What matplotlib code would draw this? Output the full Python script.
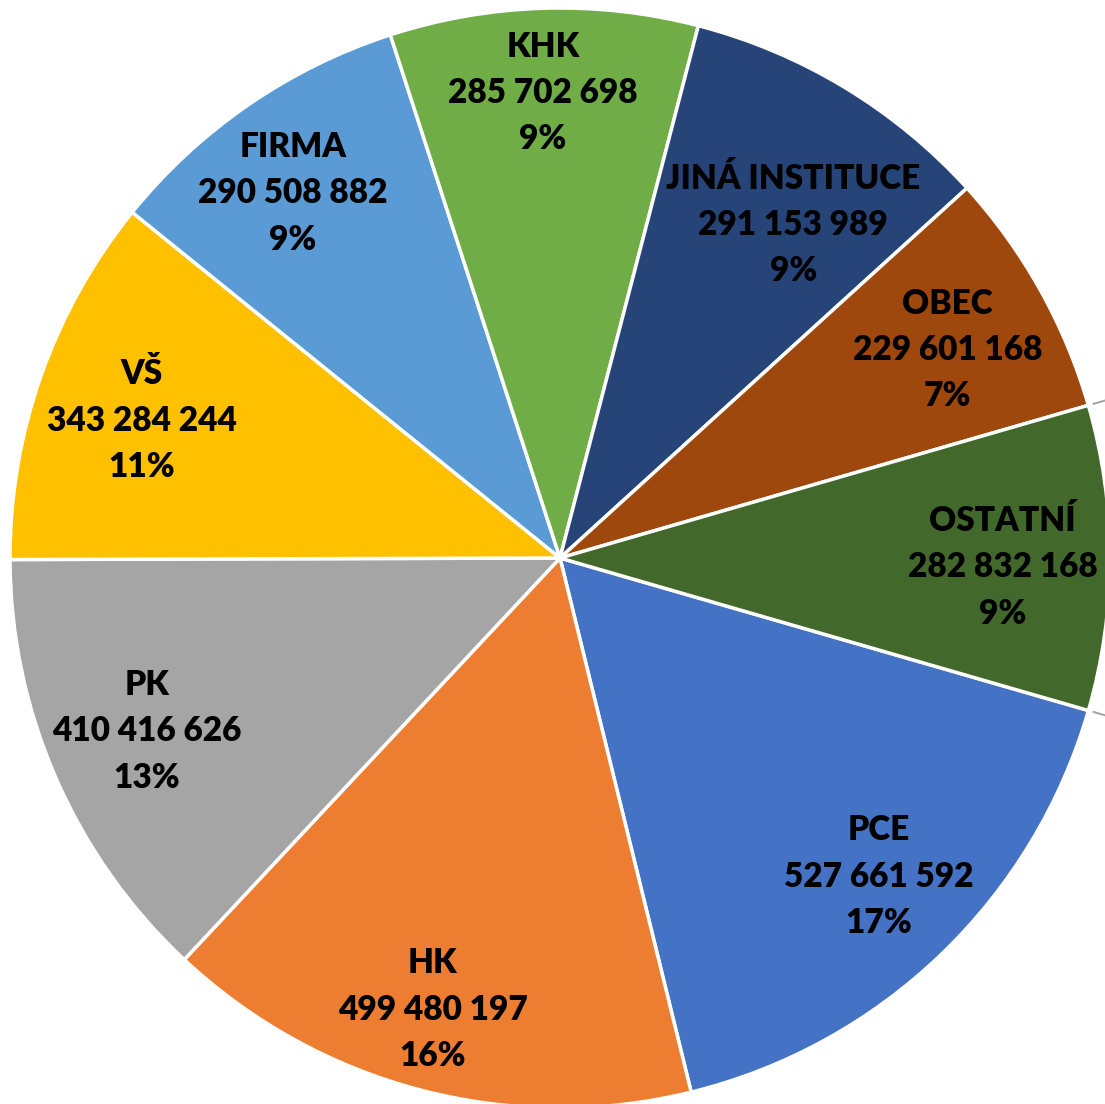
import numpy as np
import matplotlib.pyplot as plt

# slices, clockwise starting at the OSTATNI/PCE boundary
labels = ['PCE', 'HK', 'PK', 'VŠ', 'FIRMA', 'KHK', 'JINÁ INSTITUCE', 'OBEC', 'OSTATNÍ']
values = [527661592, 499480197, 410416626, 343284244, 290508882,
          285702698, 291153989, 229601168, 282832168]
colors = ['#4472C4', '#ED7D31', '#A5A5A5', '#FFC000', '#5B9BD5',
          '#70AD47', '#264478', '#9E480E', '#43682B']

W, H, dpi = 1105, 1104, 100
fig = plt.figure(figsize=(W / dpi, H / dpi), dpi=dpi)
cx, cy, r = 560, 1104 - 558, 550
ax = fig.add_axes([(cx - r) / W, (cy - r) / H, 2 * r / W, 2 * r / H])

wedges, _ = ax.pie(values, colors=colors, startangle=-16.1, counterclock=False,
                   radius=1, wedgeprops=dict(edgecolor='white', linewidth=2.5))
ax.set_xlim(-1, 1)
ax.set_ylim(-1, 1)
ax.set_aspect('auto')
ax.axis('off')

# short grey stubs outside the pie on the right (OBEC/OSTATNI and OSTATNI/PCE edges)
for th in [wedges[7].theta1, wedges[0].theta2]:
    t = np.deg2rad(th)
    ax.plot([1.01 * np.cos(t), 1.2 * np.cos(t)], [1.01 * np.sin(t), 1.2 * np.sin(t)],
            color='#A6A6A6', lw=1.5, clip_on=False)

total = sum(values)
# label radius and angular nudge (deg) per slice
dist = [0.82, 0.853, 0.815, 0.80, 0.822, 0.846, 0.739, 0.80, 0.805]
shift = [1.2, -1.1, -0.8, 1.2, 1.7, 0.4, -3.85, -1.0, -1.2]
for w, lab, v, d, s in zip(wedges, labels, values, dist, shift):
    mid = np.deg2rad((w.theta1 + w.theta2) / 2 + s)
    num = f'{v:,}'.replace(',', ' ')
    pct = f'{round(100 * v / total)}%'
    ax.text(d * np.cos(mid), d * np.sin(mid), f'{lab}\n{num}\n{pct}',
            ha='center', va='center', fontsize=24, fontweight='heavy',
            family='Lato', color='black', linespacing=1.55)

fig.savefig('out.png', dpi=dpi)
